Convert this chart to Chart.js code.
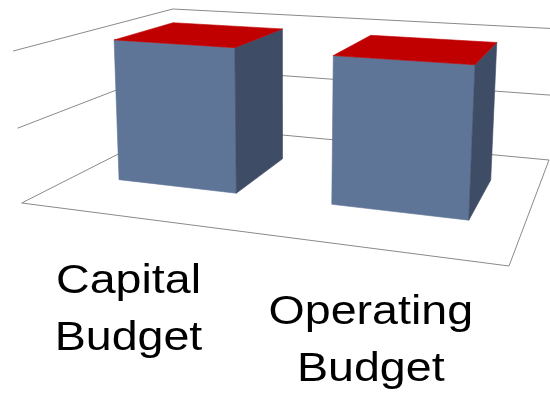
<!DOCTYPE html>
<html>
<head>
<meta charset="utf-8">
<title>Capital vs Operating Budget</title>
<script src="https://cdn.jsdelivr.net/npm/chart.js@4.4.0/dist/chart.umd.min.js"></script>
<style>
  html, body { margin: 0; padding: 0; background: #fff; }
  #wrap { width: 550px; height: 400px; }
</style>
</head>
<body>
<div id="wrap"><canvas id="budget" width="550" height="400"></canvas></div>
<script>
// data
const categories = [['Capital', 'Budget'], ['Operating', 'Budget']];
const budgetValues = [99, 98];
const axisTicks = [0, 50, 100];

// 3D frame: floor corners on screen (back-left, back-right, front-right, front-left)
const floorQuad = [[175.5, 125], [549, 160], [509, 266], [21.7, 203]];
const verticalVanish = [285, 4860];   // verticals converge slightly downwards
const wallTopY = 9;                   // top of the back corner
const barDepth = [0.3, 0.7];          // bars sit in the middle of the floor
const colors = { front: '#5f7597', side: '#3e4c66', top: '#c00000', grid: '#8a8a8a' };

// unit square -> floor quad (projective)
function squareToQuad(q) {
  const [[x0, y0], [x1, y1], [x2, y2], [x3, y3]] = q;
  const dx1 = x1 - x2, dx2 = x3 - x2, dx3 = x0 - x1 + x2 - x3;
  const dy1 = y1 - y2, dy2 = y3 - y2, dy3 = y0 - y1 + y2 - y3;
  const den = dx1 * dy2 - dx2 * dy1;
  const g = (dx3 * dy2 - dx2 * dy3) / den;
  const h = (dx1 * dy3 - dx3 * dy1) / den;
  return {
    a: x1 - x0 + g * x1, b: x3 - x0 + h * x3, c: x0,
    d: y1 - y0 + g * y1, e: y3 - y0 + h * y3, f: y0,
    g, h
  };
}

const H = squareToQuad(floorQuad);
const s = (wallTopY - floorQuad[0][1]) / (verticalVanish[1] - wallTopY);
const V = [s * verticalVanish[0], s * verticalVanish[1], s];

// u: left->right, d: back->front, t: height as fraction of axis
function project(u, d, t) {
  const X = H.a * u + H.b * d + H.c + t * V[0];
  const Y = H.d * u + H.e * d + H.f + t * V[1];
  const W = H.g * u + H.h * d + 1 + t * V[2];
  return [X / W, Y / W];
}

function poly(ctx, pts, fill) {
  ctx.beginPath();
  pts.forEach((p, i) => i ? ctx.lineTo(p[0], p[1]) : ctx.moveTo(p[0], p[1]));
  ctx.closePath();
  ctx.fillStyle = fill;
  ctx.strokeStyle = fill;
  ctx.lineWidth = 0.6;
  ctx.fill();
  ctx.stroke();
}

const box3d = {
  id: 'box3d',
  beforeDatasetsDraw(chart) {
    const { ctx, scales: { y } } = chart;
    const zero = y.getPixelForValue(0), span = zero - y.getPixelForValue(axisTicks[axisTicks.length - 1]);
    ctx.save();
    ctx.strokeStyle = colors.grid;
    ctx.lineWidth = 1;
    // gridlines along left wall and back wall
    axisTicks.forEach(v => {
      const t = (zero - y.getPixelForValue(v)) / span;
      const a = project(0, 1, t), b = project(0, 0, t), c = project(1, 0, t);
      ctx.beginPath();
      ctx.moveTo(a[0], a[1]); ctx.lineTo(b[0], b[1]); ctx.lineTo(c[0], c[1]);
      ctx.stroke();
    });
    // floor front and right edges
    const fl = project(0, 1, 0), fr = project(1, 1, 0), br = project(1, 0, 0);
    ctx.beginPath();
    ctx.moveTo(fl[0], fl[1]); ctx.lineTo(fr[0], fr[1]); ctx.lineTo(br[0], br[1]);
    ctx.stroke();
    ctx.restore();
  },
  afterDatasetsDraw(chart) {
    const { ctx, chartArea: area, scales: { x, y } } = chart;
    const meta = chart.getDatasetMeta(0);
    const [d0, d1] = barDepth;
    ctx.save();
    meta.data.forEach(bar => {
      const { x: cx, y: top, base, width } = bar.getProps(['x', 'y', 'base', 'width'], true);
      const u0 = (cx - width / 2 - area.left) / area.width;
      const u1 = (cx + width / 2 - area.left) / area.width;
      const t = (base - top) / (y.bottom - y.top);
      poly(ctx, [project(u0, d1, 0), project(u1, d1, 0), project(u1, d1, t), project(u0, d1, t)], colors.front);
      poly(ctx, [project(u1, d1, 0), project(u1, d0, 0), project(u1, d0, t), project(u1, d1, t)], colors.side);
      poly(ctx, [project(u0, d1, t), project(u1, d1, t), project(u1, d0, t), project(u0, d0, t)], colors.top);
    });

    // category labels under the front edge of the floor
    ctx.fillStyle = '#000';
    ctx.font = '41px "Liberation Sans", Arial, sans-serif';
    ctx.textAlign = 'center';
    ctx.textBaseline = 'alphabetic';
    chart.data.labels.forEach((lines, i) => {
      const u = (x.getPixelForValue(i) - area.left) / area.width;
      const p = project(u, 1, 0);
      lines.forEach((line, k) => {
        ctx.save();
        ctx.translate(p[0], p[1] + 76 + k * 57);
        ctx.scale(1.136, 1);
        ctx.fillText(line, 0, 0);
        ctx.restore();
      });
    });
    ctx.restore();
  }
};

new Chart(document.getElementById('budget'), {
  type: 'bar',
  data: {
    labels: categories,
    datasets: [{
      data: budgetValues,
      backgroundColor: 'rgba(0,0,0,0)',
      borderWidth: 0,
      barPercentage: 0.57,
      categoryPercentage: 1.0
    }]
  },
  options: {
    responsive: false,
    animation: false,
    layout: { padding: 0 },
    plugins: { legend: { display: false }, tooltip: { enabled: false } },
    scales: {
      x: { display: false },
      y: {
        display: false,
        min: axisTicks[0],
        max: axisTicks[axisTicks.length - 1],
        ticks: { stepSize: axisTicks[1] - axisTicks[0] }
      }
    }
  },
  plugins: [box3d]
});
</script>
</body>
</html>
